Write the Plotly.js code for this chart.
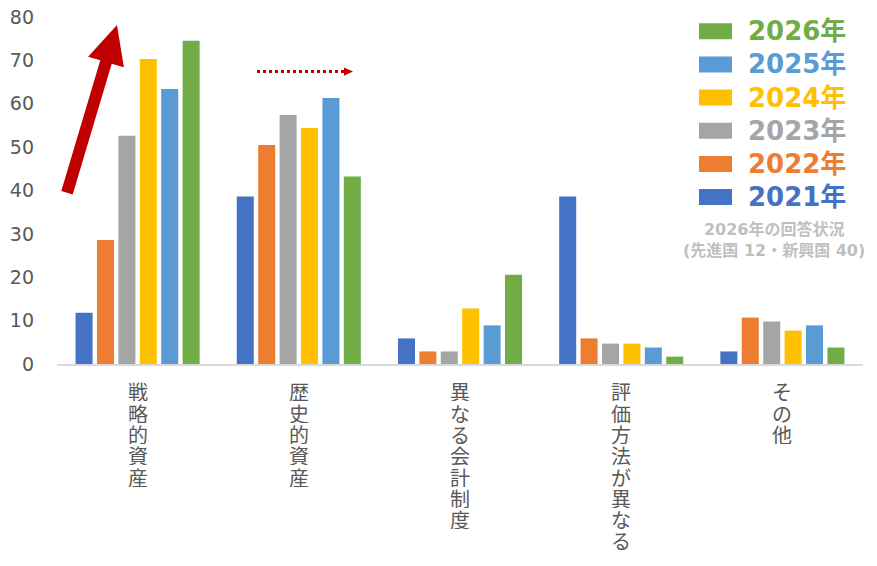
<!DOCTYPE html>
<html>
<head>
<meta charset="utf-8">
<script src="https://cdn.plot.ly/plotly-3.0.1.min.js"></script>
<style>html,body{margin:0;padding:0;background:#fff;}#chart{width:877px;height:566px;}</style>
</head>
<body>
<div id="chart"></div>
<script>
const categories = ["戦略的資産", "歴史的資産", "異なる会計制度", "評価方法が異なる", "その他"];
const seriesNames = ["2021年", "2022年", "2023年", "2024年", "2025年", "2026年"];
const seriesColors = ["#4472C4", "#ED7D31", "#A5A5A5", "#FFC000", "#5B9BD5", "#70AD47"];
const v2021 = [11.8, 38.6, 5.9, 38.6, 2.9];
const v2022 = [28.6, 50.5, 2.9, 5.9, 10.7];
const v2023 = [52.6, 57.4, 2.9, 4.7, 9.8];
const v2024 = [70.3, 54.4, 12.8, 4.7, 7.7];
const v2025 = [63.4, 61.3, 8.9, 3.8, 8.9];
const v2026 = [74.5, 43.2, 20.6, 1.7, 3.8];
const seriesValues = [v2021, v2022, v2023, v2024, v2025, v2026];
const yTicks = [0, 10, 20, 30, 40, 50, 60, 70, 80];
const noteText = "2026年の回答状況<br>(先進国 12・新興国 40)";

const W = 877, H = 566, L = 57, R = 14, T = 17, B = 201.5;
const pw = W - L - R, ph = H - T - B;
const px = x => (x - L) / pw;
const py = y => (H - B - y) / ph;

const traces = seriesNames.map((n, i) => ({
  type: 'bar', name: n, x: categories, y: seriesValues[i],
  marker: {color: seriesColors[i]}, hoverinfo: 'x+y+name'
}));

const shapes = [];
const annotations = [];
// vertical category labels (stacked characters, tight spacing)
categories.forEach(c => {
  Array.from(c).forEach((ch, j) => {
    annotations.push({xref: 'x', yref: 'paper', x: c, y: py(392 + j * 21.3),
      xanchor: 'center', yanchor: 'middle', showarrow: false, text: ch,
      height: 20, borderpad: 0,
      font: {family: 'Noto Sans CJK JP', size: 20, color: '#595959'}});
  });
});
// manual legend (reversed order: 2026 top)
const legTop = 31.3, legStep = 33.2;
for (let k = 0; k < seriesNames.length; k++) {
  const i = seriesNames.length - 1 - k;
  const cy = legTop + k * legStep;
  shapes.push({type: 'rect', xref: 'paper', yref: 'paper',
    x0: px(699), x1: px(732), y0: py(cy + 8), y1: py(cy - 8),
    fillcolor: seriesColors[i], line: {width: 0}});
  annotations.push({xref: 'paper', yref: 'paper', x: px(746), y: py(cy),
    xanchor: 'left', yanchor: 'middle', showarrow: false,
    text: '<b>' + seriesNames[i] + '</b>',
    font: {family: 'DejaVu Sans, Noto Sans CJK JP', size: 26, color: seriesColors[i]}});
}
annotations.push({xref: 'paper', yref: 'paper', x: px(774), y: py(240),
  xanchor: 'center', yanchor: 'middle', showarrow: false, align: 'center',
  text: '<b>' + noteText + '</b>',
  font: {family: 'DejaVu Sans, Noto Sans CJK JP', size: 16, color: '#BFBFBF'}});

// big red arrow
const arrowPts = [[61.3,191.3],[72.7,194.7],[111.7,63.7],[123.9,67.3],[117,25],[88.1,56.7],[100.3,60.3]];
shapes.push({type: 'path', xref: 'paper', yref: 'paper',
  path: 'M' + arrowPts.map(p => px(p[0]) + ',' + py(p[1])).join(' L') + ' Z',
  fillcolor: '#C00000', line: {width: 0}});
// dotted arrow
shapes.push({type: 'line', xref: 'paper', yref: 'paper',
  x0: px(257), x1: px(345), y0: py(71.7), y1: py(71.7),
  line: {color: '#C00000', width: 3, dash: 'dot'}});
shapes.push({type: 'path', xref: 'paper', yref: 'paper',
  path: 'M' + px(344) + ',' + py(67.5) + ' L' + px(353) + ',' + py(71.7) + ' L' + px(344) + ',' + py(75.9) + ' Z',
  fillcolor: '#C00000', line: {width: 0}});

const layout = {
  width: W, height: H,
  margin: {l: L, r: R, t: T, b: B, pad: 0},
  paper_bgcolor: '#fff', plot_bgcolor: '#fff',
  barmode: 'group', bargap: 0.203, bargroupgap: 0.205,
  showlegend: false,
  font: {family: 'DejaVu Sans, Noto Sans CJK JP', color: '#595959'},
  xaxis: {
    type: 'category', showticklabels: false,
    showline: true, linecolor: '#D9D9D9', linewidth: 1.5,
    ticks: '', showgrid: false, zeroline: false, fixedrange: true
  },
  yaxis: {
    range: [0, 80], tickvals: yTicks, ticktext: yTicks.map(String),
    tickfont: {family: 'DejaVu Sans', size: 19, color: '#595959'},
    showgrid: false, zeroline: false, showline: false, ticks: '',
    ticklabelstandoff: 22, fixedrange: true
  },
  shapes: shapes, annotations: annotations
};
Plotly.newPlot('chart', traces, layout, {displayModeBar: false, staticPlot: true});
</script>
</body>
</html>
